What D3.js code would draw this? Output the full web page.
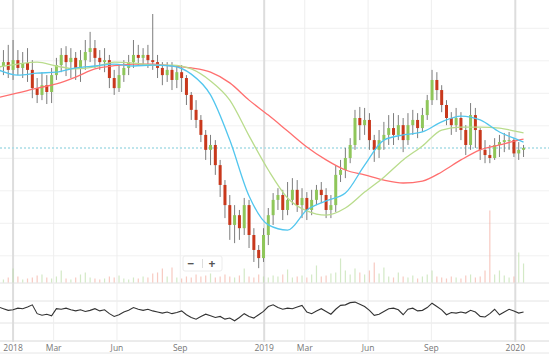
<!DOCTYPE html>
<html>
<head>
<meta charset="utf-8">
<script src="https://cdn.jsdelivr.net/npm/d3@7"></script>
<style>
  body { margin: 0; background: #fff; }
  svg { display: block; font-family: "Open Sans", sans-serif; }
</style>
</head>
<body>
<svg id="chart" width="549" height="355"></svg>
<script>
// weekly candles, first week starts Mon 2017-12-11
const firstWeek = new Date(2017, 11, 11);
const weekCount = 110;

const opens = [86.5,88.4,89.6,87.2,90.2,87.8,89.3,87.2,81.6,79.5,
  82.5,80.4,85.6,88.7,91.8,89.6,90.9,87.8,90.2,92.7,
  93.9,90.9,89.6,90.2,84.7,81.6,85.6,87.8,89.6,91.8,
  90.9,91.8,90.2,89.6,87.8,85.6,87.2,84.1,86.5,84.7,
  79.5,74.9,71.8,67.2,62.6,64.1,57.9,51.8,45.6,39.5,
  42.5,38.5,45.6,36.4,31.8,29.3,36.4,42.5,47.2,48.7,
  44.1,47.2,50.3,45.6,47.8,44.1,47.2,50.3,48.7,44.1,
  45.6,54.9,56.4,60.1,64.1,72.4,70.2,71.8,65.6,62.6,
  65.6,67.2,69.3,67.2,70.2,65.6,70.2,71.8,69.3,73.3,
  77.9,84.1,81.0,76.4,72.4,70.2,72.4,68.7,64.1,73.3,
  68.7,62.6,61.0,60.1,64.1,65.0,65.6,65.6,61.5,62.6];
const closes = [88.4,89.6,87.2,90.2,87.8,89.3,87.2,81.6,79.5,82.5,
  80.4,85.6,88.7,91.8,89.6,90.9,87.8,90.2,92.7,93.9,
  90.9,89.6,90.2,84.7,81.6,85.6,87.8,89.6,91.8,90.9,
  91.8,90.2,89.6,87.8,85.6,87.2,84.1,86.5,84.7,79.5,
  74.9,71.8,67.2,62.6,64.1,57.9,51.8,45.6,39.5,42.5,
  38.5,45.6,36.4,31.8,29.3,36.4,42.5,47.2,48.7,44.1,
  47.2,50.3,45.6,47.8,44.1,47.2,50.3,48.7,44.1,45.6,
  54.9,56.4,60.1,64.1,72.4,70.2,71.8,65.6,62.6,65.6,
  67.2,69.3,67.2,70.2,65.6,70.2,71.8,69.3,73.3,77.9,
  84.1,81.0,76.4,72.4,70.2,72.4,68.7,64.1,73.3,68.7,
  62.6,61.0,60.1,64.1,65.0,65.6,65.6,61.5,62.6,63.2];
const highs = [91.8,93.3,94.9,96.4,93.3,92.7,93.9,90.2,84.7,86.5,
  85.6,87.8,90.9,93.9,94.5,93.9,92.7,93.3,96.4,98.9,
  96.4,93.3,93.9,91.8,87.2,88.7,90.2,91.8,96.4,94.9,
  93.9,94.9,104.4,91.8,89.6,89.6,89.6,88.7,88.7,85.6,
  80.4,77.9,73.3,68.7,67.2,65.6,59.5,53.3,48.7,45.6,
  44.1,47.8,47.2,38.5,33.3,38.5,44.7,49.3,50.8,50.3,
  52.7,53.9,53.3,50.8,49.6,50.3,51.8,52.7,50.8,48.7,
  57.9,59.5,63.2,66.2,74.9,75.8,75.5,73.9,67.2,68.7,
  71.2,73.3,73.9,73.3,72.4,73.9,74.9,73.9,75.5,79.5,
  87.2,86.5,82.5,77.9,74.2,75.5,74.2,70.2,77.0,75.5,
  69.3,65.6,64.1,66.2,67.2,67.8,68.1,66.2,65.0,64.1];
const lows = [84.1,85.6,84.7,84.1,85.6,84.7,83.5,78.5,77.0,77.9,
  76.7,77.0,84.1,86.5,85.3,84.7,84.1,83.5,87.2,89.6,
  87.8,87.2,86.5,81.6,79.5,80.4,83.5,85.6,87.8,88.4,
  88.7,87.8,87.2,84.7,82.5,83.5,81.0,81.6,80.4,76.4,
  71.8,69.3,65.0,59.5,57.9,54.9,48.1,41.6,34.9,33.9,
  34.9,36.4,32.4,28.1,26.2,28.1,33.3,39.5,44.1,41.0,
  42.5,45.6,43.5,41.6,41.0,42.5,45.6,46.2,41.6,41.6,
  43.5,52.7,53.9,58.5,62.6,65.6,67.2,62.6,58.9,60.1,
  62.6,64.1,64.1,65.6,61.9,64.1,67.2,66.2,68.1,71.8,
  76.4,77.9,74.2,70.2,67.2,68.1,65.6,61.0,62.6,63.2,
  59.5,58.5,58.5,59.5,60.4,61.9,62.6,60.4,59.5,60.4];
const volumes = [2,1.5,2.5,7,3,1.5,2,2.5,3.5,4,
  2.5,2,3,6,2,1.5,2.5,4,5,2.5,
  2,1.5,2,3,2.5,3.5,2,1.5,2.5,2,
  3,2.5,4.5,5,7,3,7.5,2.5,2,3,
  2.5,4,3,3.5,4.5,2.5,3,4,3,2.5,
  3.5,7,3,2.5,4,3,2.5,3.5,3,4,
  6.5,2.5,3,3.5,2.5,4,8.5,3,3.5,4.5,
  5,12,6,4,7,5,4,6,10,4.5,
  7.5,3,2.5,5,3,2.5,3.5,2,3,4,
  6,3,2.5,2,3,2.5,2,3.5,4,2.5,
  3,6,36,4,6,3.5,2.5,3,15,9.5];
const oscillator = [59,56,53,54,57,56,59,63,47,44,
  46,43,56,55,57,54,52,54,51,53,
  56,52,54,47,42,45,50,53,58,55,
  53,55,52,50,48,50,47,49,52,45,
  40,37,42,46,43,40,42,37,39,34,
  40,47,42,39,45,51,60,63,58,55,
  57,56,59,62,50,47,52,56,51,46,
  55,62,63,67,68,64,60,53,44,46,
  51,56,57,54,45,55,57,52,53,58,
  66,60,54,45,49,48,50,48,53,50,
  42,41,47,55,45,50,55,52,48,50];

// moving averages read every 4th week (plus the last week)
const maWeeks = [0,4,8,12,16,20,24,28,32,36,40,44,48,52,56,60,64,68,72,76,80,84,88,92,96,100,104,108,109];
const maFast = [87.2,85.6,86.2,86.5,87.8,88.4,89.0,88.4,88.7,88.4,85.9,79.5,65.6,48.4,39.5,37.9,44.1,46.9,49.3,57.9,65.6,67.2,68.1,71.2,73.0,71.8,68.1,65.6,65.0];
const maMid = [88.1,89.0,89.6,88.4,87.5,88.1,89.6,89.3,88.7,88.7,87.5,83.8,77.9,66.9,56.4,47.8,43.8,42.5,44.7,49.6,54.2,59.5,63.8,68.7,69.6,69.6,69.3,68.1,67.8];
const maSlow = [78.7,80.1,81.6,82.9,85.0,87.5,88.5,89.0,89.0,88.4,87.8,86.5,83.2,77.9,73.3,68.4,63.5,59.5,56.4,54.9,53.3,52.4,53.0,55.8,59.5,62.6,64.1,65.6,65.9];

const priceGrid = [30,40,50,60,70,80,90,100];
const oscGrid = [30,70];
const tickDates = ["2018-01-01","2018-03-01","2018-06-01","2018-09-01","2019-01-01","2019-03-01","2019-06-01","2019-09-01","2020-01-01"];
const tickLabels = ["2018","Mar","Jun","Sep","2019","Mar","Jun","Sep","2020"];

const W = 549;
const svg = d3.select("#chart");
const parse = d3.timeParse("%Y-%m-%d");

const weeks = d3.range(weekCount).map(i => d3.timeWeek.offset(firstWeek, i));
const candles = weeks.map((d, i) => ({
  date: d, open: opens[i], close: closes[i], high: highs[i], low: lows[i],
  vol: volumes[i], osc: oscillator[i]
}));

const x = d3.scaleTime().domain([new Date(2017, 11, 13), new Date(2020, 1, 19)]).range([0, W]);
const y = d3.scaleLinear().domain([30, 100]).range([255.8, 28.3]);
const yVol = d3.scaleLinear().domain([0, 36]).range([282.5, 210.5]);
const yOsc = d3.scaleLinear().domain([30, 70]).range([323, 301]);

svg.append("defs").append("clipPath").attr("id", "plot")
  .append("rect").attr("x", 0).attr("y", 0).attr("width", W).attr("height", 283);

// horizontal grid
svg.append("g").selectAll("line").data(priceGrid).join("line")
  .attr("x1", 0).attr("x2", W)
  .attr("y1", d => y(d)).attr("y2", d => y(d))
  .attr("stroke", "#f1f1f1").attr("stroke-width", 1);

svg.append("g").selectAll("line").data(oscGrid).join("line")
  .attr("x1", 0).attr("x2", W)
  .attr("y1", d => yOsc(d)).attr("y2", d => yOsc(d))
  .attr("stroke", "#e4e4e4").attr("stroke-width", 1);

// panel separators
[[283, "#e2e2e2"], [341, "#d8d8d8"], [353, "#e6e6e6"]].forEach(([yy, c]) => {
  svg.append("line").attr("x1", 0).attr("x2", W).attr("y1", yy).attr("y2", yy)
    .attr("stroke", c).attr("stroke-width", 1);
});

// vertical grid
const ticks = tickDates.map(parse);
svg.append("g").selectAll("line").data(ticks).join("line")
  .attr("x1", d => x(d)).attr("x2", d => x(d))
  .attr("y1", 0).attr("y2", 342)
  .attr("stroke", (d, i) => tickLabels[i].length === 4 ? "#dddddd" : "#eeeeee")
  .attr("stroke-width", (d, i) => tickLabels[i].length === 4 ? 2 : 1);

svg.append("g").selectAll("text").data(ticks).join("text")
  .attr("x", d => x(d)).attr("y", 351)
  .attr("text-anchor", "middle")
  .attr("font-size", 8.5).attr("fill", "#777")
  .text((d, i) => tickLabels[i]);

const plot = svg.append("g").attr("clip-path", "url(#plot)");

// volume
plot.append("g").selectAll("rect").data(candles).join("rect")
  .attr("x", d => x(d.date) - 0.6).attr("width", 1.2)
  .attr("y", d => yVol(d.vol)).attr("height", d => yVol(0) - yVol(d.vol))
  .attr("fill", d => d.close >= d.open ? "#b6dba0" : "#f1a698")
  .attr("opacity", 0.6);

// last price dotted line
const last = closes[closes.length - 1];
plot.append("line")
  .attr("x1", 0).attr("x2", W).attr("y1", y(last)).attr("y2", y(last))
  .attr("stroke", "#a9dde6").attr("stroke-width", 1.5).attr("stroke-dasharray", "2,2");

// candles
const cg = plot.append("g").selectAll("g").data(candles).join("g");
cg.append("line")
  .attr("x1", d => x(d.date)).attr("x2", d => x(d.date))
  .attr("y1", d => y(d.high)).attr("y2", d => y(d.low))
  .attr("stroke", "#7d7d7d").attr("stroke-width", 1);
cg.append("rect")
  .attr("x", d => x(d.date) - 1.5).attr("width", 3)
  .attr("y", d => y(Math.max(d.open, d.close)))
  .attr("height", d => Math.max(1, Math.abs(y(d.open) - y(d.close))))
  .attr("fill", d => d.close >= d.open ? "#8fc65a" : "#c8381c");

// moving averages
const maLine = vals => d3.line()
  .x((d, i) => x(weeks[maWeeks[i]]))
  .y(d => y(d))
  .curve(d3.curveMonotoneX)(vals);

[[maSlow, "#ff6f6f"], [maMid, "#b9dc8c"], [maFast, "#52c6ee"]].forEach(([vals, c]) => {
  plot.append("path").attr("d", maLine(vals))
    .attr("fill", "none").attr("stroke", c).attr("stroke-width", 1.3);
});

// oscillator
svg.append("path")
  .datum(candles)
  .attr("d", d3.line().x(d => x(d.date)).y(d => yOsc(d.osc)))
  .attr("fill", "none").attr("stroke", "#333").attr("stroke-width", 1.1);

// zoom buttons
const zb = svg.append("g").attr("transform", "translate(183,256)");
zb.append("rect").attr("width", 39).attr("height", 15).attr("rx", 2)
  .attr("fill", "#fff").attr("stroke", "#ececec");
zb.append("line").attr("x1", 19.5).attr("x2", 19.5).attr("y1", 3).attr("y2", 12)
  .attr("stroke", "#ddd");
zb.append("text").attr("x", 8).attr("y", 11.5).attr("text-anchor", "middle")
  .attr("font-size", 12).attr("font-weight", "bold").attr("fill", "#555").text("−");
zb.append("text").attr("x", 29).attr("y", 11.5).attr("text-anchor", "middle")
  .attr("font-size", 12).attr("font-weight", "bold").attr("fill", "#555").text("+");
</script>
</body>
</html>
